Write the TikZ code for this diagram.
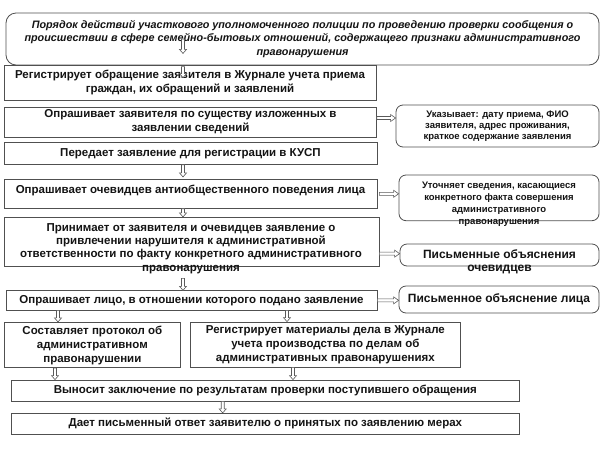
\documentclass[tikz,border=0pt]{standalone}
\usepackage{fontspec}
\setmainfont{Liberation Sans}
\usetikzlibrary{calc}
\definecolor{bordergray}{HTML}{505050}
\definecolor{arrowgray}{HTML}{5A5A5A}
\definecolor{inktext}{HTML}{141414}
\begin{document}
\begin{tikzpicture}[x=1pt,y=-1pt,
  box/.style={draw=bordergray, line width=0.8pt, inner sep=0pt, align=center,
    text=inktext, font=\bfseries\fontsize{11.5}{14}\selectfont},
  rbox/.style={box, rounded corners=7pt},
  txt/.style={inner sep=0pt, align=center, text=inktext},
  mainfont/.style={font=\bfseries\fontsize{11.5}{13.3}\selectfont},
  smallfont/.style={font=\bfseries\fontsize{9.5}{10.8}\selectfont},
  sidefont/.style={font=\bfseries\fontsize{12}{13}\selectfont},
  darr/.style={draw=arrowgray, fill=white, line width=0.6pt,
    to path={let \p1=(\tikztostart), \p2=(\tikztotarget) in
      (\x1-1.5pt,\y1) -- (\x1-1.5pt,\y2+4pt) -- (\x1-3.5pt,\y2+4pt) -- (\x1,\y2)
      -- (\x1+3.5pt,\y2+4pt) -- (\x1+1.5pt,\y2+4pt) -- (\x1+1.5pt,\y1) -- cycle}},
  rarr/.style={draw=arrowgray, fill=white, line width=0.6pt,
    to path={let \p1=(\tikztostart), \p2=(\tikztotarget) in
      (\x1,\y1+1.5pt) -- (\x2-5pt,\y1+1.5pt) -- (\x2-5pt,\y1+3.5pt) -- (\x2,\y1)
      -- (\x2-5pt,\y1-3.5pt) -- (\x2-5pt,\y1-1.5pt) -- (\x1,\y1-1.5pt) -- cycle}}
]
\useasboundingbox[fill=white] (0,0) rectangle (600,448);

% title
\node[rbox, rounded corners=10pt, minimum width=593pt, minimum height=52pt,
  font=\bfseries\itshape\fontsize{10.8}{13.3}\selectfont] (title) at (302.5,39)
  {Порядок действий участкового уполномоченного полиции по проведению проверки сообщения о\\
   происшествии в сфере семейно-бытовых отношений, содержащего признаки административного\\
   правонарушения};

% left column
\node[box, minimum width=372pt, minimum height=35.5pt] (reg1) at (190,82.75)
  {Регистрирует обращение заявителя в Журнале учета приема\\граждан, их обращений и заявлений};
\node[box, minimum width=372pt, minimum height=30pt] (opr1) at (190.5,122)
  {Опрашивает заявителя по существу изложенных в\\заявлении сведений};
\node[box, minimum width=373pt, minimum height=22.5pt] (pered) at (190.5,153.25)
  {Передает заявление для регистрации в КУСП};
\node[box, minimum width=373pt, minimum height=29pt, text depth=9pt] (ochev) at (190.5,193.8)
  {Опрашивает очевидцев антиобщественного поведения лица};
\node[box, minimum width=375pt, minimum height=48.7pt] (prin) at (191.5,241.65) {};
\node[txt, mainfont] (printxt) at (191,248.3)
  {Принимает от заявителя и очевидцев заявление о\\привлечении нарушителя к административной\\ответственности по факту конкретного административного\\правонарушения};
\node[box, minimum width=371pt, minimum height=19.3pt] (oprl) at (191.5,300.35)
  {Опрашивает лицо, в отношении которого подано заявление};
\node[box, minimum width=175.3pt, minimum height=45.4pt] (sost) at (92.35,345)
  {Составляет протокол об\\административном\\правонарушении};
\node[box, minimum width=269.3pt, minimum height=45pt] (regm) at (325.35,344.5)
  {Регистрирует материалы дела в Журнале\\учета производства по делам об\\административных правонарушениях};
\node[box, minimum width=507.3pt, minimum height=21pt] (vyn) at (265.35,390.5)
  {Выносит заключение по результатам проверки поступившего обращения};
\node[box, minimum width=507.3pt, minimum height=20.7pt] (daet) at (265.35,423.65)
  {Дает письменный ответ заявителю о принятых по заявлению мерах};

% right column
\node[rbox, smallfont, minimum width=203pt, minimum height=42pt] (ukaz) at (497.5,126)
  {Указывает: дату приема, ФИО\\заявителя, адрес проживания,\\краткое содержание заявления};
\node[rbox, minimum width=200pt, minimum height=45.7pt] (utoch) at (499,197.85) {};
\node[txt, font=\bfseries\fontsize{9.5}{12}\selectfont] (utochtxt) at (499,204)
  {Уточняет сведения, касающиеся\\конкретного факта совершения\\административного\\правонарушения};
\node[rbox, minimum width=199pt, minimum height=22pt] (pisob) at (499.5,255) {};
\node[txt, sidefont] (pisobtxt) at (499.5,261.5)
  {Письменные объяснения\\очевидцев};
\node[rbox, sidefont, minimum width=200pt, minimum height=27pt] (pisl) at (499,299.5)
  {Письменное объяснение лица};

% x positions of the vertical arrows
\coordinate (ax) at (183,0);
\coordinate (bx) at (58,0);
\coordinate (cx) at (287,0);
\coordinate (dx) at (55,0);
\coordinate (ex) at (293,0);
\coordinate (fx) at (222.7,0);

% vertical arrows
\draw[darr] (title.center -| ax) to ($(title.south -| ax)+(0,-12)$);
\draw[darr] ($(reg1.north -| ax)+(0,2)$) to ($(reg1.north -| ax)+(0,13)$);
\draw[darr] (pered.south -| ax) to ($(ochev.north -| ax)+(0,-2)$);
\draw[darr] (ochev.south -| ax) to (prin.north -| ax);
\draw[darr] ($(prin.south -| ax)+(0,12)$) to (oprl.north -| ax);
\draw[darr] (oprl.south -| bx) to (sost.north -| bx);
\draw[darr] (oprl.south -| cx) to (regm.north -| cx);
\draw[darr] (sost.south -| dx) to (vyn.north -| dx);
\draw[darr] (regm.south -| ex) to (vyn.north -| ex);
\draw[darr] (vyn.south -| fx) to (daet.north -| fx);

% horizontal arrows
\draw[rarr] ([yshift=4pt]opr1.east) to ([yshift=4pt]opr1.east -| ukaz.west);
\draw[rarr] ([xshift=2pt]ochev.east) to (ochev.east -| utoch.west);
\draw[rarr] ([yshift=-12pt]prin.east) to ([yshift=-12pt]prin.east -| pisob.west);
\draw[rarr] (oprl.east) to (oprl.east -| pisl.west);
\end{tikzpicture}
\end{document}
